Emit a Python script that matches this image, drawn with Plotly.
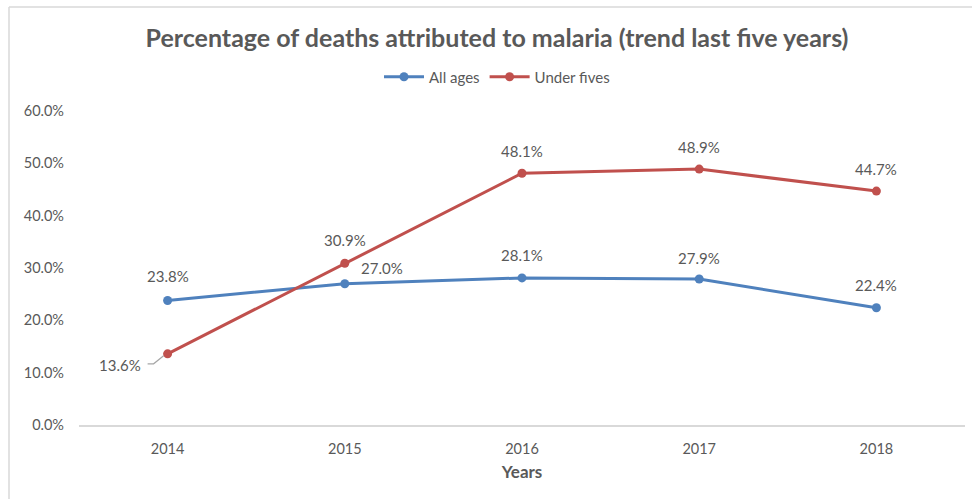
import plotly.graph_objects as go

# Chart data
years = ["2014", "2015", "2016", "2017", "2018"]
all_ages = [23.8, 27.0, 28.1, 27.9, 22.4]
under_fives = [13.6, 30.9, 48.1, 48.9, 44.7]
y_ticks = [0, 10, 20, 30, 40, 50, 60]

BLUE = "#4F81BD"
RED = "#C0504D"
GREY_TXT = "#595959"
FONT = "Lato, 'Open Sans', sans-serif"

W, H = 972, 499
ML, MR, MT, MB = 79, 7, 111, 74
PW, PH = W - ML - MR, H - MT - MB

fig = go.Figure()
fig.add_trace(go.Scatter(
    x=years, y=all_ages, name="All ages", mode="lines+markers",
    line=dict(color=BLUE, width=3), marker=dict(color=BLUE, size=9),
))
fig.add_trace(go.Scatter(
    x=years, y=under_fives, name="Under fives", mode="lines+markers",
    line=dict(color=RED, width=3), marker=dict(color=RED, size=9),
))

# Data labels (offsets in pixels relative to each point; x given as category index)
LBL_FONT = dict(size=15, color=GREY_TXT, family=FONT)
blue_offsets = [(0, 24), (37, 16), (0, 23), (0, 21), (0, 23)]
red_offsets = [(-48, -11), (0, 23), (0, 22), (0, 22), (0, 22)]
annotations = []
for i, (v, (dx, dy)) in enumerate(zip(all_ages, blue_offsets)):
    annotations.append(dict(x=i, y=v, xref="x", yref="y", text=f"{v:.1f}%",
                            showarrow=False, xshift=dx, yshift=dy, font=LBL_FONT))
for i, (v, (dx, dy)) in enumerate(zip(under_fives, red_offsets)):
    annotations.append(dict(x=i, y=v, xref="x", yref="y", text=f"{v:.1f}%",
                            showarrow=False, xshift=dx, yshift=dy, font=LBL_FONT))

# Chart-area frame (left and top edges)
left_x = (9 - ML) / PW
top_y = 1 + (MT - 7) / PH
shapes = [
    dict(type="line", xref="paper", yref="paper", x0=left_x, x1=left_x,
         y0=-1, y1=top_y, line=dict(color="#D9D9D9", width=1.5)),
    dict(type="line", xref="paper", yref="paper", x0=left_x, x1=2,
         y0=top_y, y1=top_y, line=dict(color="#D9D9D9", width=1.5)),
    # elbow leader line from the moved 2014 label to its point
    dict(type="path", xref="x", yref="y", xsizemode="pixel", ysizemode="pixel",
         xanchor=0, yanchor=under_fives[0],
         path="M -20,-10 L -14,-10 L -4,-2",
         line=dict(color="#A6A6A6", width=1.2), layer="below"),
]

fig.update_layout(
    width=W, height=H,
    margin=dict(l=ML, r=MR, t=MT, b=MB),
    paper_bgcolor="white", plot_bgcolor="white",
    font=dict(family=FONT, color=GREY_TXT, size=14),
    title=dict(text="<b>Percentage of deaths attributed to malaria (trend last five years)</b>",
               x=497 / W, xanchor="center", y=1 - 38 / H, yanchor="middle",
               font=dict(size=25, color=GREY_TXT, family=FONT)),
    legend=dict(orientation="h", x=(497 - ML) / PW, xanchor="center",
                y=1 + (MT - 77) / PH, yanchor="middle",
                font=dict(size=15, color=GREY_TXT, family=FONT),
                itemwidth=40, tracegroupgap=0),
    xaxis=dict(type="category", range=[-0.5, 4.5], showgrid=False,
               showline=True, linecolor="#D9D9D9", linewidth=1.5,
               ticks="", ticklabelstandoff=10,
               tickfont=dict(size=14.5, color=GREY_TXT),
               title=dict(text="<b>Years</b>", standoff=10,
                          font=dict(size=17, color=GREY_TXT)),
               zeroline=False),
    yaxis=dict(range=[0, 60], tickvals=y_ticks,
               ticktext=[f"{t:.1f}%" for t in y_ticks],
               showgrid=False, showline=False, zeroline=False, ticks="",
               ticklabelstandoff=14, tickfont=dict(size=14.5, color=GREY_TXT)),
    annotations=annotations,
    shapes=shapes,
    showlegend=True,
)

fig.write_html("out.html")
